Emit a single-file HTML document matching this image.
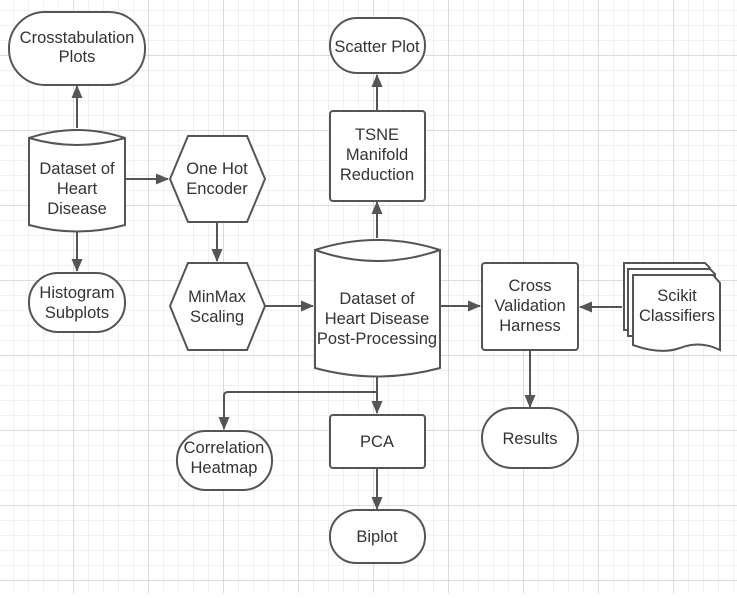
<!DOCTYPE html>
<html><head><style>
body{margin:0;background:#fff}
svg text{font-family:"Liberation Sans",sans-serif;font-size:16.5px;fill:#333;text-anchor:middle}
</style></head><body>
<svg width="737" height="593" xmlns="http://www.w3.org/2000/svg">
<defs>
<pattern id="minor" x="-2" y="-20" width="15" height="15" patternUnits="userSpaceOnUse"><path d="M0 0H15M0 0V15" stroke="#e3e3e3" stroke-width="1" fill="none"/></pattern>
<pattern id="major" x="-2" y="-20" width="75" height="75" patternUnits="userSpaceOnUse"><path d="M0 0H75M0 0V75" stroke="#d0d0d0" stroke-width="1.5" fill="none"/></pattern>
<marker id="a" markerWidth="14" markerHeight="12" refX="12" refY="6" orient="auto" markerUnits="userSpaceOnUse"><path d="M0 0.5L13 6L0 11.5Z" fill="#555"/></marker>
</defs>
<rect width="737" height="593" fill="url(#minor)"/>
<rect width="737" height="593" fill="url(#major)"/>
<g stroke="#555" stroke-width="2" fill="none">
<line x1="77" y1="128" x2="77" y2="86" marker-end="url(#a)"/>
<line x1="125" y1="179" x2="168" y2="179" marker-end="url(#a)"/>
<line x1="217" y1="222" x2="217" y2="261" marker-end="url(#a)"/>
<line x1="77" y1="230" x2="77" y2="271" marker-end="url(#a)"/>
<line x1="265" y1="306" x2="313" y2="306" marker-end="url(#a)"/>
<line x1="377" y1="238" x2="377" y2="202" marker-end="url(#a)"/>
<line x1="377" y1="111" x2="377" y2="75" marker-end="url(#a)"/>
<line x1="440" y1="306" x2="480" y2="306" marker-end="url(#a)"/>
<line x1="622" y1="307" x2="580" y2="307" marker-end="url(#a)"/>
<line x1="530" y1="350" x2="530" y2="407" marker-end="url(#a)"/>
<path d="M377 376V392H228Q224 392 224 396V429" marker-end="url(#a)"/>
<line x1="377" y1="392" x2="377" y2="413" marker-end="url(#a)"/>
<line x1="377" y1="468" x2="377" y2="509" marker-end="url(#a)"/>
</g>
<g stroke="#555" stroke-width="2" fill="#fff">
<rect x="9" y="12" width="136" height="73" rx="36"/>
<path d="M29 138Q77 122 125 138V225Q77 238 29 225Z"/><path d="M29 138Q77 152 125 138" fill="none"/>
<polygon points="170,179 188,136 247,136 265,179 247,222 188,222"/>
<polygon points="170,306 188,263 247,263 265,306 247,350 188,350"/>
<rect x="29" y="273" width="96" height="59" rx="29"/>
<path d="M315 250Q377 230 440 250V368Q377 385 315 368Z"/><path d="M315 250Q377 272 440 250" fill="none"/>
<rect x="330" y="111" width="95" height="90" rx="3"/>
<rect x="330" y="18" width="95" height="55" rx="27"/>
<rect x="482" y="263" width="96" height="87" rx="3"/>
<path d="M624 263H705L710 268V330L624 330Z"/>
<path d="M628 269H710L715 274V336L628 336Z"/>
<path d="M633 275H713L720 283V350Q700 340 680 348Q660 355 633 345Z"/>
<rect x="482" y="408" width="96" height="60" rx="30"/>
<rect x="177" y="431" width="95" height="59" rx="29"/>
<rect x="330" y="415" width="95" height="53" rx="3"/>
<rect x="330" y="510" width="95" height="53" rx="26"/>
</g>
<text x="77" y="43">Crosstabulation</text><text x="77" y="62">Plots</text>
<text x="77" y="174">Dataset of</text><text x="77" y="194">Heart</text><text x="77" y="214">Disease</text>
<text x="217" y="174">One Hot</text><text x="217" y="194">Encoder</text>
<text x="217" y="302">MinMax</text><text x="217" y="322">Scaling</text>
<text x="77" y="298">Histogram</text><text x="77" y="318">Subplots</text>
<text x="377" y="304">Dataset of</text><text x="377" y="324">Heart Disease</text><text x="377" y="344">Post-Processing</text>
<text x="377" y="140">TSNE</text><text x="377" y="160">Manifold</text><text x="377" y="180">Reduction</text>
<text x="377" y="52">Scatter Plot</text>
<text x="530" y="291">Cross</text><text x="530" y="311">Validation</text><text x="530" y="331">Harness</text>
<text x="677" y="301">Scikit</text><text x="677" y="321">Classifiers</text>
<text x="530" y="444">Results</text>
<text x="224" y="453">Correlation</text><text x="224" y="473">Heatmap</text>
<text x="377" y="447">PCA</text>
<text x="377" y="542">Biplot</text>
</svg>
</body></html>
